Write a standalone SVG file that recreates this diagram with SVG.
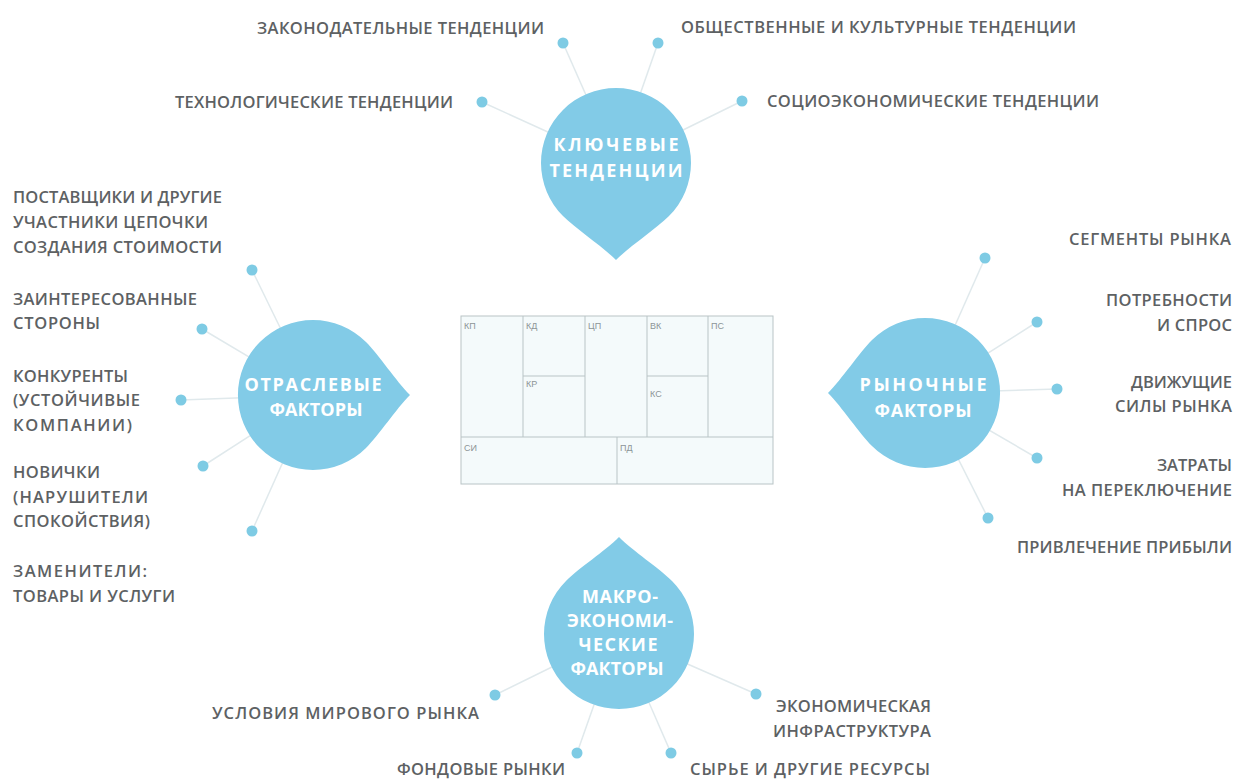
<svg xmlns="http://www.w3.org/2000/svg" width="1237" height="780" viewBox="0 0 1237 780">
<style>
.lbl{font-family:"Open Sans","Noto Sans",sans-serif;font-size:16.5px;font-weight:600;fill:#5d6163}
.end{text-anchor:end}
.dt{font-family:"Open Sans","Noto Sans",sans-serif;font-weight:700;font-size:18px;fill:#ffffff;text-anchor:middle}
.dot{fill:#7ecbe4}
.drop{fill:#82cbe7}
#connectors line{stroke:#e0e9ec;stroke-width:1.5}
.cv{fill:#f4fafb;stroke:#b9c4c6;stroke-width:1}
.cvl{stroke:#b9c4c6;stroke-width:1}
.cl{font-family:"Liberation Sans",sans-serif;font-size:9px;fill:#8c9597}
</style>
<defs>
<path id="drop" d="M 0,97 C 14,83 40,66 53,53 A 75 75 0 1 0 -53,53 C -40,66 -14,83 0,97 Z"/>
</defs>
<rect width="1237" height="780" fill="#ffffff"/>

<g id="connectors">
<line x1="563" y1="43" x2="616" y2="163"/>
<line x1="658" y1="43" x2="616" y2="163"/>
<line x1="482" y1="102" x2="616" y2="163"/>
<line x1="742" y1="101" x2="616" y2="163"/>
<line x1="252" y1="270" x2="313" y2="395"/>
<line x1="202" y1="329" x2="313" y2="395"/>
<line x1="181" y1="400" x2="313" y2="395"/>
<line x1="203" y1="466" x2="313" y2="395"/>
<line x1="252" y1="531" x2="313" y2="395"/>
<line x1="985" y1="258" x2="925" y2="393"/>
<line x1="1037" y1="322" x2="925" y2="393"/>
<line x1="1057" y1="389" x2="925" y2="393"/>
<line x1="1037" y1="458" x2="925" y2="393"/>
<line x1="988" y1="518" x2="925" y2="393"/>
<line x1="495" y1="695" x2="619" y2="634"/>
<line x1="577" y1="753" x2="619" y2="634"/>
<line x1="671" y1="753" x2="619" y2="634"/>
<line x1="756" y1="694" x2="619" y2="634"/>
</g>

<g id="canvas">
<rect class="cv" x="461" y="316" width="312" height="168"/>
<line class="cvl" x1="523" y1="316" x2="523" y2="437"/>
<line class="cvl" x1="585" y1="316" x2="585" y2="437"/>
<line class="cvl" x1="647" y1="316" x2="647" y2="437"/>
<line class="cvl" x1="708" y1="316" x2="708" y2="437"/>
<line class="cvl" x1="461" y1="437" x2="773" y2="437"/>
<line class="cvl" x1="523" y1="376" x2="585" y2="376"/>
<line class="cvl" x1="647" y1="376" x2="708" y2="376"/>
<line class="cvl" x1="617" y1="437" x2="617" y2="484"/>
<text class="cl" x="464" y="329">КП</text>
<text class="cl" x="526" y="329">КД</text>
<text class="cl" x="588" y="329">ЦП</text>
<text class="cl" x="650" y="329">ВК</text>
<text class="cl" x="711" y="329">ПС</text>
<text class="cl" x="526" y="387">КР</text>
<text class="cl" x="650" y="397">КС</text>
<text class="cl" x="464" y="451">СИ</text>
<text class="cl" x="620" y="451">ПД</text>
</g>

<g id="node-trends">
<use href="#drop" class="drop" transform="translate(616,163)"/>
<text class="dt" x="616" y="151" textLength="125">КЛЮЧЕВЫЕ</text>
<text class="dt" x="616" y="177" textLength="133">ТЕНДЕНЦИИ</text>
</g>
<g id="node-industry">
<use href="#drop" class="drop" transform="translate(313,395) rotate(-90)"/>
<text class="dt" x="313" y="391" textLength="137">ОТРАСЛЕВЫЕ</text>
<text class="dt" x="316" y="416" textLength="93">ФАКТОРЫ</text>
</g>
<g id="node-market">
<use href="#drop" class="drop" transform="translate(925,393) rotate(90)"/>
<text class="dt" x="923" y="391" textLength="127">РЫНОЧНЫЕ</text>
<text class="dt" x="923" y="417" textLength="97">ФАКТОРЫ</text>
</g>
<g id="node-macro">
<use href="#drop" class="drop" transform="translate(619,634) rotate(180)"/>
<text class="dt" x="620" y="603" textLength="76">МАКРО-</text>
<text class="dt" x="620" y="627" textLength="106">ЭКОНОМИ-</text>
<text class="dt" x="618" y="651" textLength="79">ЧЕСКИЕ</text>
<text class="dt" x="617" y="675" textLength="93">ФАКТОРЫ</text>
</g>

<g id="node-legal"><circle class="dot" cx="563" cy="43" r="5.5"/><text class="lbl" x="257" y="34" textLength="287">ЗАКОНОДАТЕЛЬНЫЕ ТЕНДЕНЦИИ</text></g>
<g id="node-social"><circle class="dot" cx="658" cy="43" r="5.5"/><text class="lbl" x="681" y="33" textLength="395">ОБЩЕСТВЕННЫЕ И КУЛЬТУРНЫЕ ТЕНДЕНЦИИ</text></g>
<g id="node-tech"><circle class="dot" cx="482" cy="102" r="5.5"/><text class="lbl" x="175" y="108" textLength="278">ТЕХНОЛОГИЧЕСКИЕ ТЕНДЕНЦИИ</text></g>
<g id="node-socio"><circle class="dot" cx="742" cy="101" r="5.5"/><text class="lbl" x="767" y="107" textLength="332">СОЦИОЭКОНОМИЧЕСКИЕ ТЕНДЕНЦИИ</text></g>

<g id="node-suppliers"><circle class="dot" cx="252" cy="270" r="5.5"/>
<text class="lbl" x="13" y="203" textLength="209">ПОСТАВЩИКИ И ДРУГИЕ</text>
<text class="lbl" x="13" y="228" textLength="195">УЧАСТНИКИ ЦЕПОЧКИ</text>
<text class="lbl" x="13" y="253" textLength="209">СОЗДАНИЯ СТОИМОСТИ</text></g>
<g id="node-stakeholders"><circle class="dot" cx="202" cy="329" r="5.5"/>
<text class="lbl" x="13" y="305" textLength="184">ЗАИНТЕРЕСОВАННЫЕ</text>
<text class="lbl" x="13" y="329" textLength="87">СТОРОНЫ</text></g>
<g id="node-competitors"><circle class="dot" cx="181" cy="400" r="5.5"/>
<text class="lbl" x="13" y="382" textLength="115">КОНКУРЕНТЫ</text>
<text class="lbl" x="13" y="406" textLength="127">(УСТОЙЧИВЫЕ</text>
<text class="lbl" x="13" y="431" textLength="119">КОМПАНИИ)</text></g>
<g id="node-newcomers"><circle class="dot" cx="203" cy="466" r="5.5"/>
<text class="lbl" x="13" y="478" textLength="87">НОВИЧКИ</text>
<text class="lbl" x="13" y="503" textLength="135">(НАРУШИТЕЛИ</text>
<text class="lbl" x="13" y="527" textLength="137">СПОКОЙСТВИЯ)</text></g>
<g id="node-substitutes"><circle class="dot" cx="252" cy="531" r="5.5"/>
<text class="lbl" x="13" y="577" textLength="134">ЗАМЕНИТЕЛИ:</text>
<text class="lbl" x="13" y="602" textLength="162">ТОВАРЫ И УСЛУГИ</text></g>

<g id="node-segments"><circle class="dot" cx="985" cy="258" r="5.5"/>
<text class="lbl end" x="1231" y="245" textLength="162">СЕГМЕНТЫ РЫНКА</text></g>
<g id="node-needs"><circle class="dot" cx="1037" cy="322" r="5.5"/>
<text class="lbl end" x="1232" y="306" textLength="126">ПОТРЕБНОСТИ</text>
<text class="lbl end" x="1232" y="331" textLength="75">И СПРОС</text></g>
<g id="node-drivers"><circle class="dot" cx="1057" cy="389" r="5.5"/>
<text class="lbl end" x="1232" y="388" textLength="101">ДВИЖУЩИЕ</text>
<text class="lbl end" x="1232" y="412" textLength="117">СИЛЫ РЫНКА</text></g>
<g id="node-switching"><circle class="dot" cx="1037" cy="458" r="5.5"/>
<text class="lbl end" x="1232" y="471" textLength="75">ЗАТРАТЫ</text>
<text class="lbl end" x="1232" y="496" textLength="170">НА ПЕРЕКЛЮЧЕНИЕ</text></g>
<g id="node-revenue"><circle class="dot" cx="988" cy="518" r="5.5"/>
<text class="lbl end" x="1232" y="553" textLength="215">ПРИВЛЕЧЕНИЕ ПРИБЫЛИ</text></g>

<g id="node-global"><circle class="dot" cx="495" cy="695" r="5.5"/>
<text class="lbl" x="212" y="719" textLength="267">УСЛОВИЯ МИРОВОГО РЫНКА</text></g>
<g id="node-stock"><circle class="dot" cx="577" cy="753" r="5.5"/>
<text class="lbl" x="397" y="775" textLength="168">ФОНДОВЫЕ РЫНКИ</text></g>
<g id="node-resources"><circle class="dot" cx="671" cy="753" r="5.5"/>
<text class="lbl" x="690" y="775" textLength="240">СЫРЬЕ И ДРУГИЕ РЕСУРСЫ</text></g>
<g id="node-infra"><circle class="dot" cx="756" cy="694" r="5.5"/>
<text class="lbl end" x="931" y="712" textLength="155">ЭКОНОМИЧЕСКАЯ</text>
<text class="lbl end" x="931" y="737" textLength="158">ИНФРАСТРУКТУРА</text></g>
</svg>
